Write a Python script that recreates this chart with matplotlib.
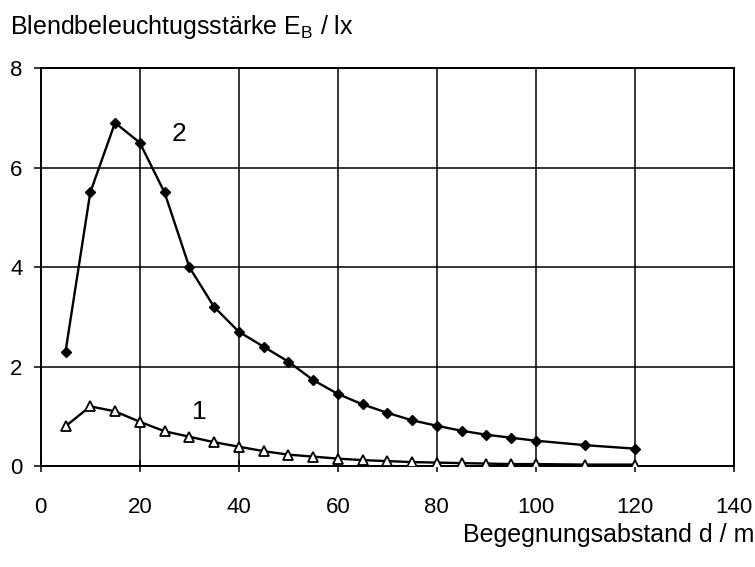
import matplotlib.pyplot as plt

plt.rcParams['font.family'] = ['Liberation Sans', 'DejaVu Sans']
plt.rcParams['mathtext.fontset'] = 'custom'
plt.rcParams['mathtext.rm'] = 'Liberation Sans'

# Begegnungsabstand d / m
d2 = [5, 10, 15, 20, 25, 30, 35, 40, 45, 50, 55, 60, 65, 70, 75, 80, 85, 90, 95, 100, 110, 120]
e2 = [2.3, 5.5, 6.9, 6.5, 5.5, 4.0, 3.2, 2.7, 2.4, 2.1, 1.73, 1.45, 1.24, 1.07, 0.92, 0.81,
      0.71, 0.63, 0.57, 0.51, 0.42, 0.35]

d1 = d2
e1 = [0.8, 1.2, 1.1, 0.89, 0.7, 0.59, 0.48, 0.39, 0.3, 0.23, 0.19, 0.15, 0.12, 0.1, 0.08,
      0.07, 0.06, 0.05, 0.04, 0.04, 0.03, 0.03]

xticks = [0, 20, 40, 60, 80, 100, 120, 140]
yticks = [0, 2, 4, 6, 8]

fig = plt.figure(figsize=(7.55, 5.67), dpi=100)
ax = fig.add_axes([0.054, 0.178, 0.918, 0.702])

ax.plot(d2, e2, color='black', lw=1.7, marker='D', markersize=5.5, zorder=3)
ax.plot(d1, e1, color='black', lw=1.7, marker='^', markersize=6.5,
        markerfacecolor='white', markeredgewidth=1.3, zorder=3)

ax.text(28, 6.68, '2', fontsize=19, ha='center', va='center')
ax.text(32, 1.08, '1', fontsize=19, ha='center', va='center')

ax.set_xlim(0, 140)
ax.set_ylim(0, 8)
ax.set_xticks(xticks)
ax.set_yticks(yticks)
ax.grid(True, color='black', lw=1.1)
ax.set_axisbelow(True)
for s in ax.spines.values():
    s.set_linewidth(1.4)
    s.set_color('black')
ax.tick_params(axis='x', direction='inout', length=8, width=1.1, labelsize=16, pad=18)
ax.tick_params(axis='y', direction='out', length=5, width=1.1, labelsize=16, pad=8)

fig.text(0.013, 0.952, r'Blendbeleuchtugsstärke E$_{\mathrm{B}}$ / lx', fontsize=18,
         ha='left', va='center')
fig.text(0.999, 0.057, 'Begegnungsabstand d / m', fontsize=18, ha='right', va='center')

fig.savefig('out.png', dpi=100)
